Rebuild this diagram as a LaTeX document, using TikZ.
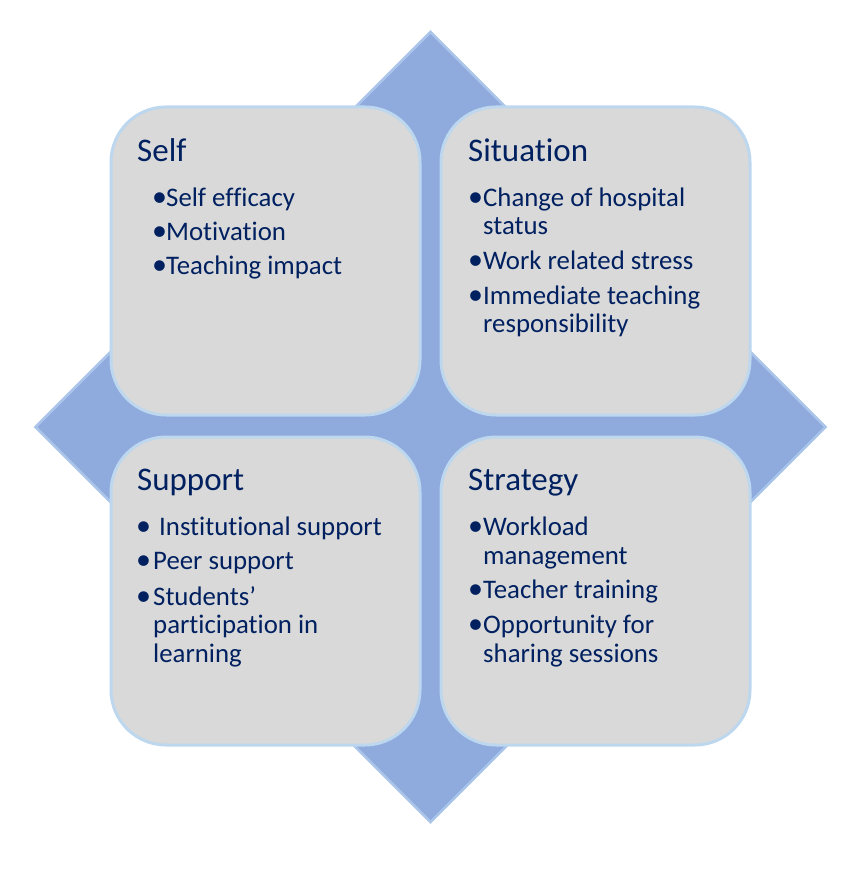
\documentclass[tikz,border=0pt]{standalone}
\usepackage{fontspec}
\setmainfont{Carlito}[Ligatures=NoCommon]
\definecolor{navy}{RGB}{0,32,96}
\definecolor{boxfill}{RGB}{217,217,217}
\definecolor{boxline}{RGB}{189,215,238}
\definecolor{dmfill}{RGB}{143,170,220}
\definecolor{dmline}{RGB}{170,196,234}
\tikzset{
  quad/.style={draw=boxline, line width=3pt, fill=boxfill, rounded corners=55pt,
    minimum width=309pt, minimum height=308pt, inner sep=0pt},
  ttl/.style={anchor=base west, inner sep=0pt, text=navy, font=\fontsize{33}{39}\selectfont},
  itm/.style={anchor=base west, inner sep=0pt, text=navy, font=\fontsize{26.8}{28}\selectfont},
  bul/.style={anchor=base, inner sep=0pt, text=navy, font=\fontsize{30}{28}\selectfont},
}
\begin{document}
\begin{tikzpicture}[x=1pt,y=-1pt]
\useasboundingbox (0,0) rectangle (867,869);
% diamond
\draw[draw=dmline, line width=2.5pt, fill=dmfill, line join=miter]
  (430.5,32) -- (825.5,427) -- (430.5,822) -- (35.5,427) -- cycle;
% boxes
\node[quad] (self) at (265.5,261) {};
\node[quad] (situation) at (595.5,261) {};
\node[quad] (support) at (265.5,591) {};
\node[quad] (strategy) at (595.5,591) {};
% Self
\node[ttl] (t1) at (137,161) {Self};
\node[bul] (b1a) at (159.5,206) {•};
\node[itm] (s1a) at (166,206) {Self efficacy};
\node[bul] (b1b) at (159.5,240) {•};
\node[itm] (s1b) at (166,240) {Motivation};
\node[bul] (b1c) at (159.5,274) {•};
\node[itm] (s1c) at (166,274) {Teaching impact};
% Situation
\node[ttl] (t2) at (468,161) {Situation};
\node[bul] (b2a) at (475.5,206) {•};
\node[itm] (s2a) at (483,206) {Change of hospital};
\node[itm] (s2a2) at (483,234) {status};
\node[bul] (b2b) at (475.5,269) {•};
\node[itm] (s2b) at (483,269) {Work related stress};
\node[bul] (b2c) at (475.5,304) {•};
\node[itm] (s2c) at (483,304) {Immediate teaching};
\node[itm] (s2c2) at (483,332) {responsibility};
% Support
\node[ttl] (t3) at (137,490) {Support};
\node[bul] (b3a) at (143.5,535) {•};
\node[itm] (s3a) at (159,535) {Institutional support};
\node[bul] (b3b) at (143.5,569) {•};
\node[itm] (s3b) at (153,569) {Peer support};
\node[bul] (b3c) at (143.5,605) {•};
\node[itm] (s3c) at (153,605) {Students’};
\node[itm] (s3c2) at (153,633) {participation in};
\node[itm] (s3c3) at (153,662) {learning};
% Strategy
\node[ttl] (t4) at (468,490) {Strategy};
\node[bul] (b4a) at (475.5,535) {•};
\node[itm] (s4a) at (483,535) {Workload};
\node[itm] (s4a2) at (483,564) {management};
\node[bul] (b4b) at (475.5,598) {•};
\node[itm] (s4b) at (483,598) {Teacher training};
\node[bul] (b4c) at (475.5,633) {•};
\node[itm] (s4c) at (483,633) {Opportunity for};
\node[itm] (s4c2) at (483,662) {sharing sessions};
\end{tikzpicture}
\end{document}
